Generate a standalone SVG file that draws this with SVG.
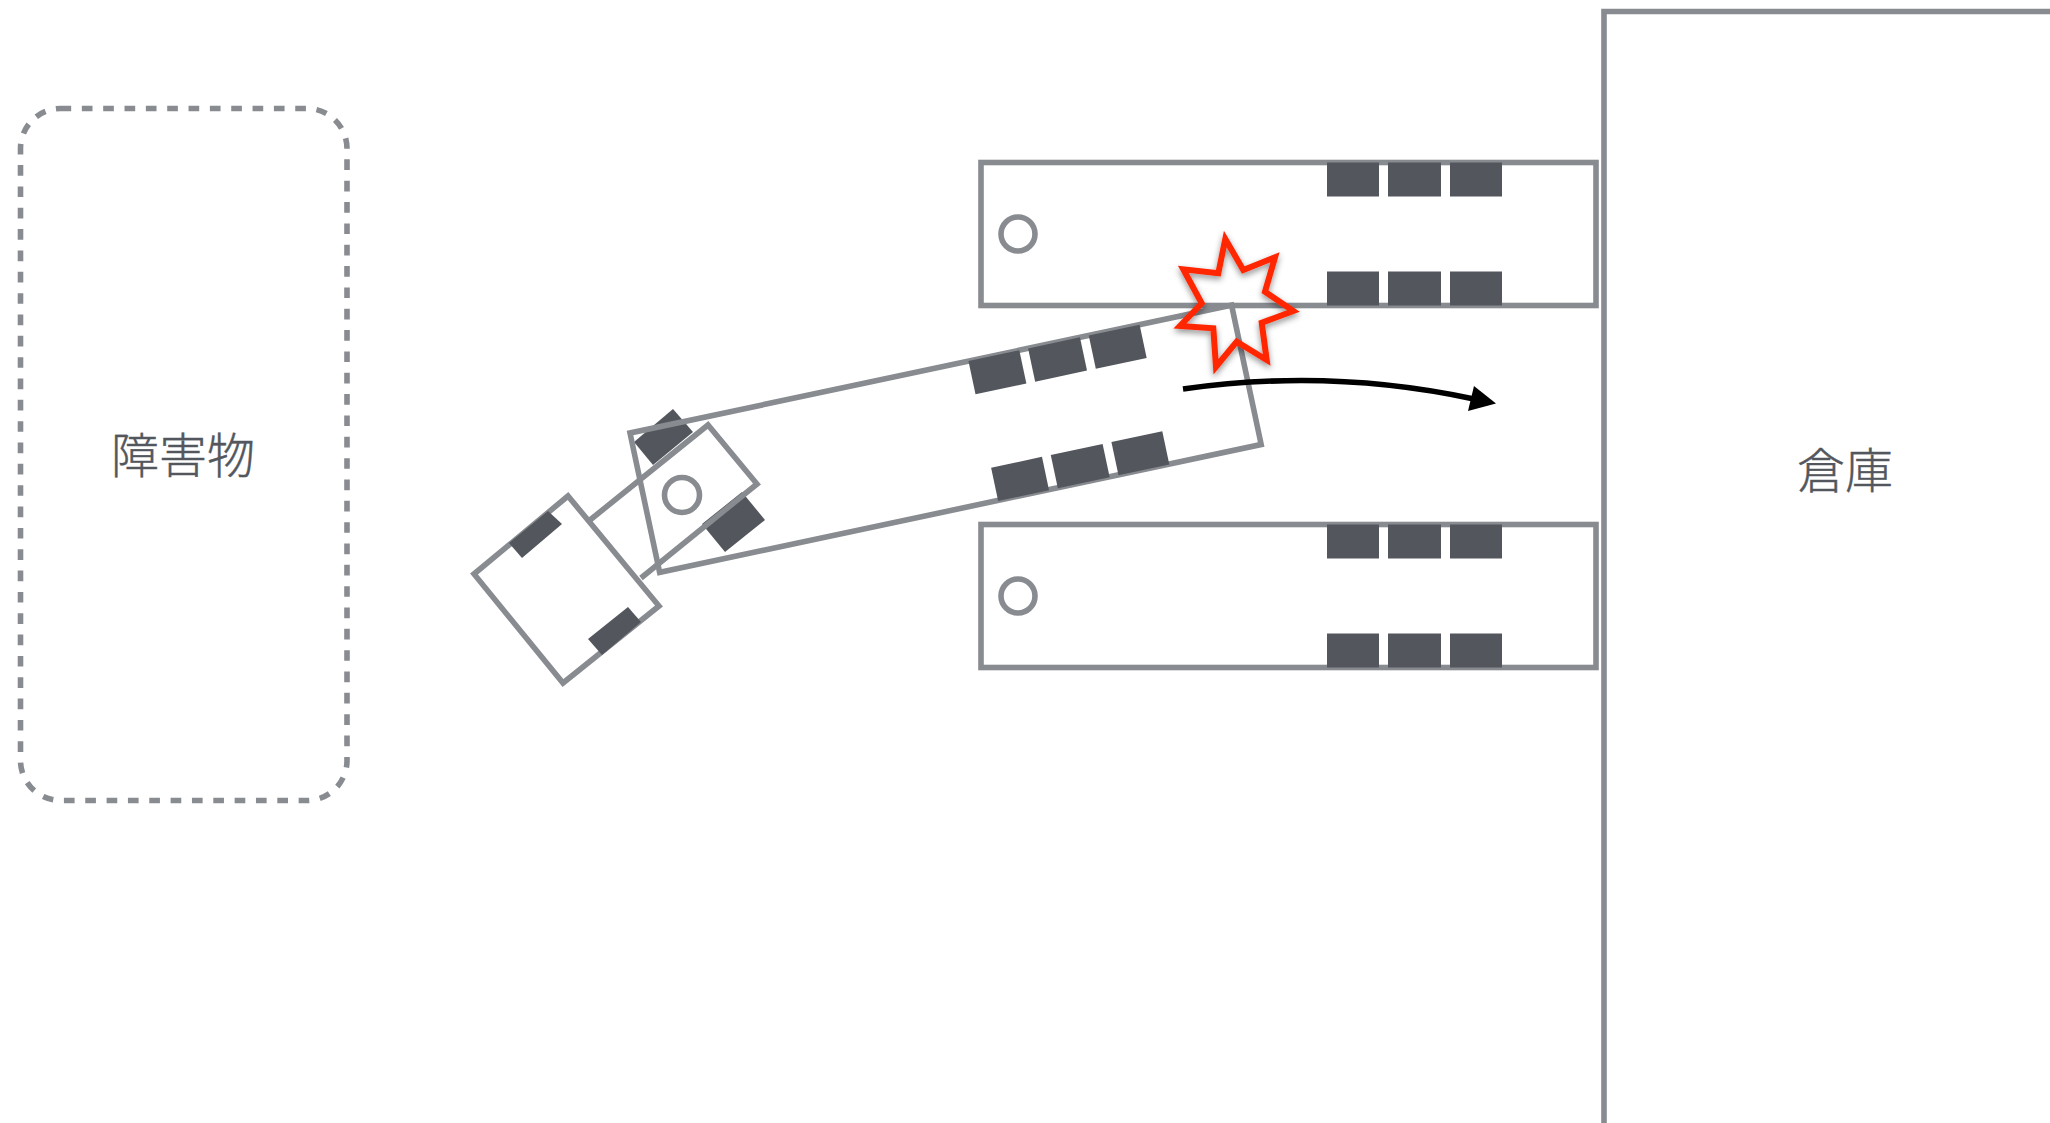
<svg xmlns="http://www.w3.org/2000/svg" width="2050" height="1123" viewBox="0 0 2050 1123">
<style>
.o{fill:none;stroke:#888b90;stroke-width:5.6}
.w{fill:#53575d}
.t{font-family:"Noto Sans CJK JP","Noto Sans",sans-serif;font-size:48px;font-weight:300;fill:#53575d;text-anchor:middle;stroke:#53575d;stroke-width:.4}
</style>
<defs>
<filter id="sh" x="-30%" y="-30%" width="160%" height="160%"><feDropShadow dx="0" dy="3" stdDeviation="3" flood-color="#000" flood-opacity="0.45"/></filter>
<g id="wheels">
<rect class="w" x="346" y="0" width="52" height="34"/><rect class="w" x="407" y="0" width="53" height="34"/><rect class="w" x="469" y="0" width="52" height="34"/>
<rect class="w" x="346" y="109" width="52" height="34"/><rect class="w" x="407" y="109" width="53" height="34"/><rect class="w" x="469" y="109" width="52" height="34"/>
</g>
</defs>
<rect width="2050" height="1123" fill="#fff"/>
<g id="obstacle">
<rect x="20.5" y="108.5" width="326.5" height="692" rx="40" class="o" stroke-dasharray="10.67 10.67"/>
<text class="t" x="183" y="473">障害物</text>
</g>
<g id="warehouse">
<path d="M1604 1123V11.5H2050" class="o"/>
<text class="t" x="1845" y="488">倉庫</text>
</g>
<g id="trailer-top" transform="translate(981 162.5)">
<rect width="615" height="143" class="o"/><use href="#wheels"/><circle cx="37" cy="71.5" r="17" class="o"/>
</g>
<g id="trailer-bottom" transform="translate(981 524.5)">
<rect width="615" height="143" class="o"/><use href="#wheels"/><circle cx="37" cy="71.5" r="17" class="o"/>
</g>
<g id="tractor">
<path class="w" d="M673 409L693 432L653 465L634 442Z"/>
<path class="w" d="M742 492L765 520L725 552L702 524Z"/>
<path class="o" d="M590 520L708 425L757 484L641 578"/>
<circle cx="682" cy="495" r="17.5" class="o"/>
<path class="o" d="M568 496L474 574L563 683L659 606Z" style="fill:#fff"/>
<path class="w" d="M548 511L562 524L522 558L509 543Z"/>
<path class="w" d="M628 607L641 622L602 655L588 639Z"/>
</g>
<g id="trailer-moving" transform="translate(630 433) rotate(-12)">
<rect width="615" height="142.5" class="o"/><use href="#wheels"/>
</g>
<g id="impact">
<path d="M1225.3 239L1243.3 270L1275 257.3L1265 291.7L1293.3 311L1261.7 322.7L1266.7 360L1236.7 341.7L1216 366.7L1213.3 328.3L1180 326L1201.7 303.3L1183.3 269.3L1218.3 273.3Z" fill="none" stroke="#ff2600" stroke-width="6" filter="url(#sh)"/>
</g>
<g id="connectors">
<path d="M1183 389Q1330 368 1474 399" fill="none" stroke="#000" stroke-width="5.6"/>
<path d="M1474 386L1496 403.5L1468 411Z" fill="#000"/>
</g>
</svg>
